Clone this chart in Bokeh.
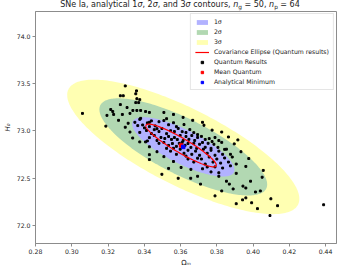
import numpy as np
from bokeh.plotting import figure
from bokeh.models import Div, FixedTicker, NumeralTickFormatter, Legend, LegendItem, Range1d
from bokeh.layouts import column
from bokeh.embed import file_html
from bokeh.resources import INLINE

# ---------------- data ----------------
x_ticks = [0.28, 0.30, 0.32, 0.34, 0.36, 0.38, 0.40, 0.42, 0.44]
y_ticks = [72.0, 72.5, 73.0, 73.5, 74.0]

# analytical minimum and Gaussian approximation of the chi^2 surface
analytical_min = (0.3615, 72.830)
sig_om = 0.01861
sig_h0 = 0.2064
rho_an = -0.772
delta_chi2 = [2.30, 6.18, 11.83]          # 1, 2, 3 sigma for 2 parameters
band_labels = ["1σ", "2σ", "3σ"]
band_colors = ["#b2b2ff", "#b2d8b2", "#ffffb2"]

# quantum results
mean_quantum = (0.3603, 72.845)
q_sig_om = 0.0194
q_sig_h0 = 0.2256
q_rho = -0.921

qx = [0.3059, 0.3295, 0.3357, 0.3353, 0.3268, 0.3284, 0.3359, 0.3375, 0.3353, 0.3369,
      0.3215, 0.3226, 0.3231, 0.3279, 0.3321, 0.3337, 0.3359, 0.3380, 0.3407, 0.3428,
      0.3188, 0.3336, 0.3407, 0.3417, 0.3428, 0.3428, 0.3497, 0.3534, 0.3587, 0.3311,
      0.3258, 0.3380, 0.3428, 0.3194,
      0.3729, 0.3916, 0.3976, 0.3710, 0.3656, 0.3853, 0.3869, 0.3944, 0.3960, 0.3986,
      0.3890, 0.3827, 0.4013, 0.4040, 0.4056, 0.3942, 0.3960, 0.3992, 0.3907, 0.4093,
      0.4389, 0.4098, 0.4024, 0.3790, 0.3811, 0.4050, 0.4135,
      0.3348, 0.3375, 0.3391, 0.3417, 0.3439, 0.3460, 0.3481, 0.3508, 0.3534, 0.3523,
      0.3561, 0.3470, 0.3428, 0.3401, 0.3364,
      0.3375, 0.3412, 0.3439, 0.3455, 0.3481, 0.3497, 0.3523, 0.3545, 0.3566, 0.3587,
      0.3609, 0.3630, 0.3651, 0.3673, 0.3694, 0.3577, 0.3619,
      0.3428, 0.3455, 0.3470, 0.3492, 0.3513, 0.3534, 0.3550, 0.3566, 0.3582, 0.3598,
      0.3614, 0.3630, 0.3646, 0.3662, 0.3678, 0.3694, 0.3715, 0.3736, 0.3758, 0.3774,
      0.3790, 0.3811,
      0.3481, 0.3508, 0.3534, 0.3555, 0.3577, 0.3593, 0.3609, 0.3625, 0.3641, 0.3657,
      0.3673, 0.3689, 0.3705, 0.3721, 0.3736, 0.3752, 0.3768, 0.3784, 0.3806, 0.3827,
      0.3843, 0.3561, 0.3523,
      0.3545, 0.3577, 0.3598, 0.3619, 0.3641, 0.3662, 0.3683, 0.3705, 0.3726, 0.3747,
      0.3768, 0.3790, 0.3811, 0.3832, 0.3853, 0.3875, 0.3630, 0.3694,
      0.3641, 0.3673, 0.3715, 0.3736, 0.3758, 0.3779, 0.3800, 0.3821, 0.3843, 0.3864,
      0.3885, 0.3747, 0.3790, 0.3832, 0.3875, 0.3907, 0.3721, 0.3768, 0.3811,
      0.3508, 0.3561, 0.3614, 0.3667, 0.3721, 0.3774, 0.3827, 0.3864, 0.3896, 0.3933,
      0.3960, 0.3907, 0.3561, 0.3508, 0.3470, 0.3428, 0.3375, 0.3321, 0.3295, 0.3603,
      0.3657, 0.3694, 0.3268, 0.3305]
qy = [73.184, 73.474, 73.422, 73.391, 73.370, 73.370, 73.339, 73.329, 73.298, 73.298,
      73.225, 73.204, 73.173, 73.173, 73.184, 73.215, 73.215, 73.215, 73.204, 73.194,
      73.049, 72.924, 72.883, 72.893, 72.748, 72.696, 72.541, 72.603, 72.499, 73.080,
      73.111, 73.132, 73.090, 73.163,
      73.059, 72.904, 72.707, 72.437, 72.499, 72.468, 72.437, 72.416, 72.396, 72.468,
      72.386, 72.365, 72.354, 72.365, 72.582, 72.271, 72.292, 72.240, 72.230, 72.105,
      72.219, 72.282, 72.178, 72.313, 72.520, 72.510, 72.209,
      73.090, 73.121, 73.062, 73.084, 73.105, 73.052, 73.096, 73.108, 73.064, 73.128,
      73.085, 73.022, 73.044, 73.031, 73.055,
      72.983, 73.003, 72.971, 73.012, 72.992, 73.024, 72.970, 73.001, 72.992, 73.025,
      72.991, 72.982, 73.013, 72.981, 72.960, 73.044, 73.066,
      72.928, 72.951, 72.898, 72.930, 72.919, 72.940, 72.909, 72.929, 72.908, 72.951,
      72.897, 72.940, 72.910, 72.950, 72.898, 72.930, 72.941, 72.909, 72.918, 72.887,
      72.930, 72.897,
      72.868, 72.877, 72.846, 72.866, 72.836, 72.868, 72.877, 72.847, 72.866, 72.825,
      72.868, 72.815, 72.858, 72.877, 72.826, 72.868, 72.815, 72.858, 72.825, 72.878,
      72.804, 72.816, 72.815,
      72.785, 72.752, 72.806, 72.763, 72.795, 72.752, 72.785, 72.742, 72.806, 72.763,
      72.795, 72.742, 72.785, 72.752, 72.806, 72.752, 72.733, 72.711,
      72.702, 72.670, 72.702, 72.649, 72.723, 72.670, 72.702, 72.659, 72.713, 72.670,
      72.723, 72.618, 72.619, 72.607, 72.630, 72.649, 72.599, 72.566, 72.557,
      73.194, 73.173, 73.142, 73.111, 73.090, 73.007, 72.987, 72.935, 72.862, 72.779,
      72.624, 72.551, 72.676, 72.727, 72.779, 72.831, 72.883, 72.987, 73.038, 72.613,
      72.593, 72.520, 73.277, 73.246]


def ellipse(cx, cy, sx, sy, rho, scale, n=240):
    t = np.linspace(0, 2 * np.pi, n)
    cov = np.array([[sx * sx, rho * sx * sy], [rho * sx * sy, sy * sy]])
    L = np.linalg.cholesky(cov)
    pts = (L @ np.vstack([np.cos(t), np.sin(t)])) * scale
    return cx + pts[0], cy + pts[1]


FONT = "DejaVu Sans"

title_html = ('SNe Ia, analytical 1<i>σ</i>, 2<i>σ</i>, and 3<i>σ</i> contours, '
              '<i>n</i><sub style="font-size:5.8px; vertical-align:-1.5px; line-height:0;">g</sub> = 50, '
              '<i>n</i><sub style="font-size:5.8px; vertical-align:-1.5px; line-height:0;">p</sub> = 64')
title = Div(text=title_html, width=341, height=10, margin=(0, 0, 0, 0),
            styles={"font-family": "DejaVu Sans", "font-size": "8px", "line-height": "10px",
                    "text-align": "center", "padding-left": "19px", "box-sizing": "border-box",
                    "white-space": "nowrap", "color": "#222222", "overflow": "visible"})

p = figure(width=341, height=259, output_backend="svg", toolbar_location=None,
           x_range=Range1d(0.28, 0.446), y_range=Range1d(71.81, 74.26),
           min_border_left=24, min_border_right=5, min_border_top=1, min_border_bottom=24,
           x_axis_label="Ωₘ", y_axis_label="H₀")
p.grid.visible = False
p.outline_line_color = "#8c8c8c"
p.background_fill_color = "white"

# contour bands (3 sigma drawn first)
band_renderers = {}
for lvl, lab, col in reversed(list(zip(delta_chi2, band_labels, band_colors))):
    ex, ey = ellipse(analytical_min[0], analytical_min[1], sig_om, sig_h0, rho_an, np.sqrt(lvl))
    band_renderers[lab] = p.patch(ex, ey, fill_color=col, line_color=None)

pts_r = p.scatter(qx, qy, marker="square", size=1.9, color="black")

rx, ry = ellipse(mean_quantum[0], mean_quantum[1], q_sig_om, q_sig_h0, q_rho, 1.0)
red_r = p.line(rx, ry, line_color="red", line_width=1.2)

mean_r = p.scatter([mean_quantum[0]], [mean_quantum[1]], marker="square", size=3.5, color="red")
an_r = p.scatter([analytical_min[0]], [analytical_min[1]], marker="square", size=3.5, color="blue")

# axes
for ax in (p.xaxis[0], p.yaxis[0]):
    ax.axis_line_color = "#8c8c8c"
    ax.major_tick_line_color = "#8c8c8c"
    ax.major_tick_out = 3
    ax.major_tick_in = 0
    ax.minor_tick_line_color = None
    ax.major_label_text_font = FONT
    ax.major_label_text_font_size = "6.2px"
    ax.major_label_text_color = "#222222"
    ax.axis_label_text_font = FONT
    ax.axis_label_text_font_size = "7px"
    ax.axis_label_text_color = "#222222"
    ax.major_label_standoff = 2
    ax.axis_label_standoff = 2

p.xaxis[0].ticker = FixedTicker(ticks=x_ticks)
p.xaxis[0].formatter = NumeralTickFormatter(format="0.00")
p.xaxis[0].axis_label_text_font_style = "normal"
p.yaxis[0].ticker = FixedTicker(ticks=y_ticks)
p.yaxis[0].formatter = NumeralTickFormatter(format="0.0")
p.yaxis[0].axis_label_text_font_style = "italic"

legend = Legend(items=[
    LegendItem(label="1σ", renderers=[band_renderers["1σ"]]),
    LegendItem(label="2σ", renderers=[band_renderers["2σ"]]),
    LegendItem(label="3σ", renderers=[band_renderers["3σ"]]),
    LegendItem(label="Covariance Ellipse (Quantum results)", renderers=[red_r]),
    LegendItem(label="Quantum Results", renderers=[pts_r]),
    LegendItem(label="Mean Quantum", renderers=[mean_r]),
    LegendItem(label="Analytical Minimum", renderers=[an_r]),
], location="top_right")
legend.label_text_font = FONT
legend.label_text_font_size = "6.2px"
legend.label_text_color = "#222222"
legend.glyph_width = 14
legend.glyph_height = 6
legend.label_height = 7
legend.label_standoff = 5
legend.spacing = 3
legend.padding = 4
legend.margin = 2
legend.border_line_color = "#cccccc"
legend.background_fill_alpha = 0.85
p.add_layout(legend)

layout = column(title, p, spacing=0)

with open("out.html", "w") as f:
    f.write(file_html(layout, INLINE))
